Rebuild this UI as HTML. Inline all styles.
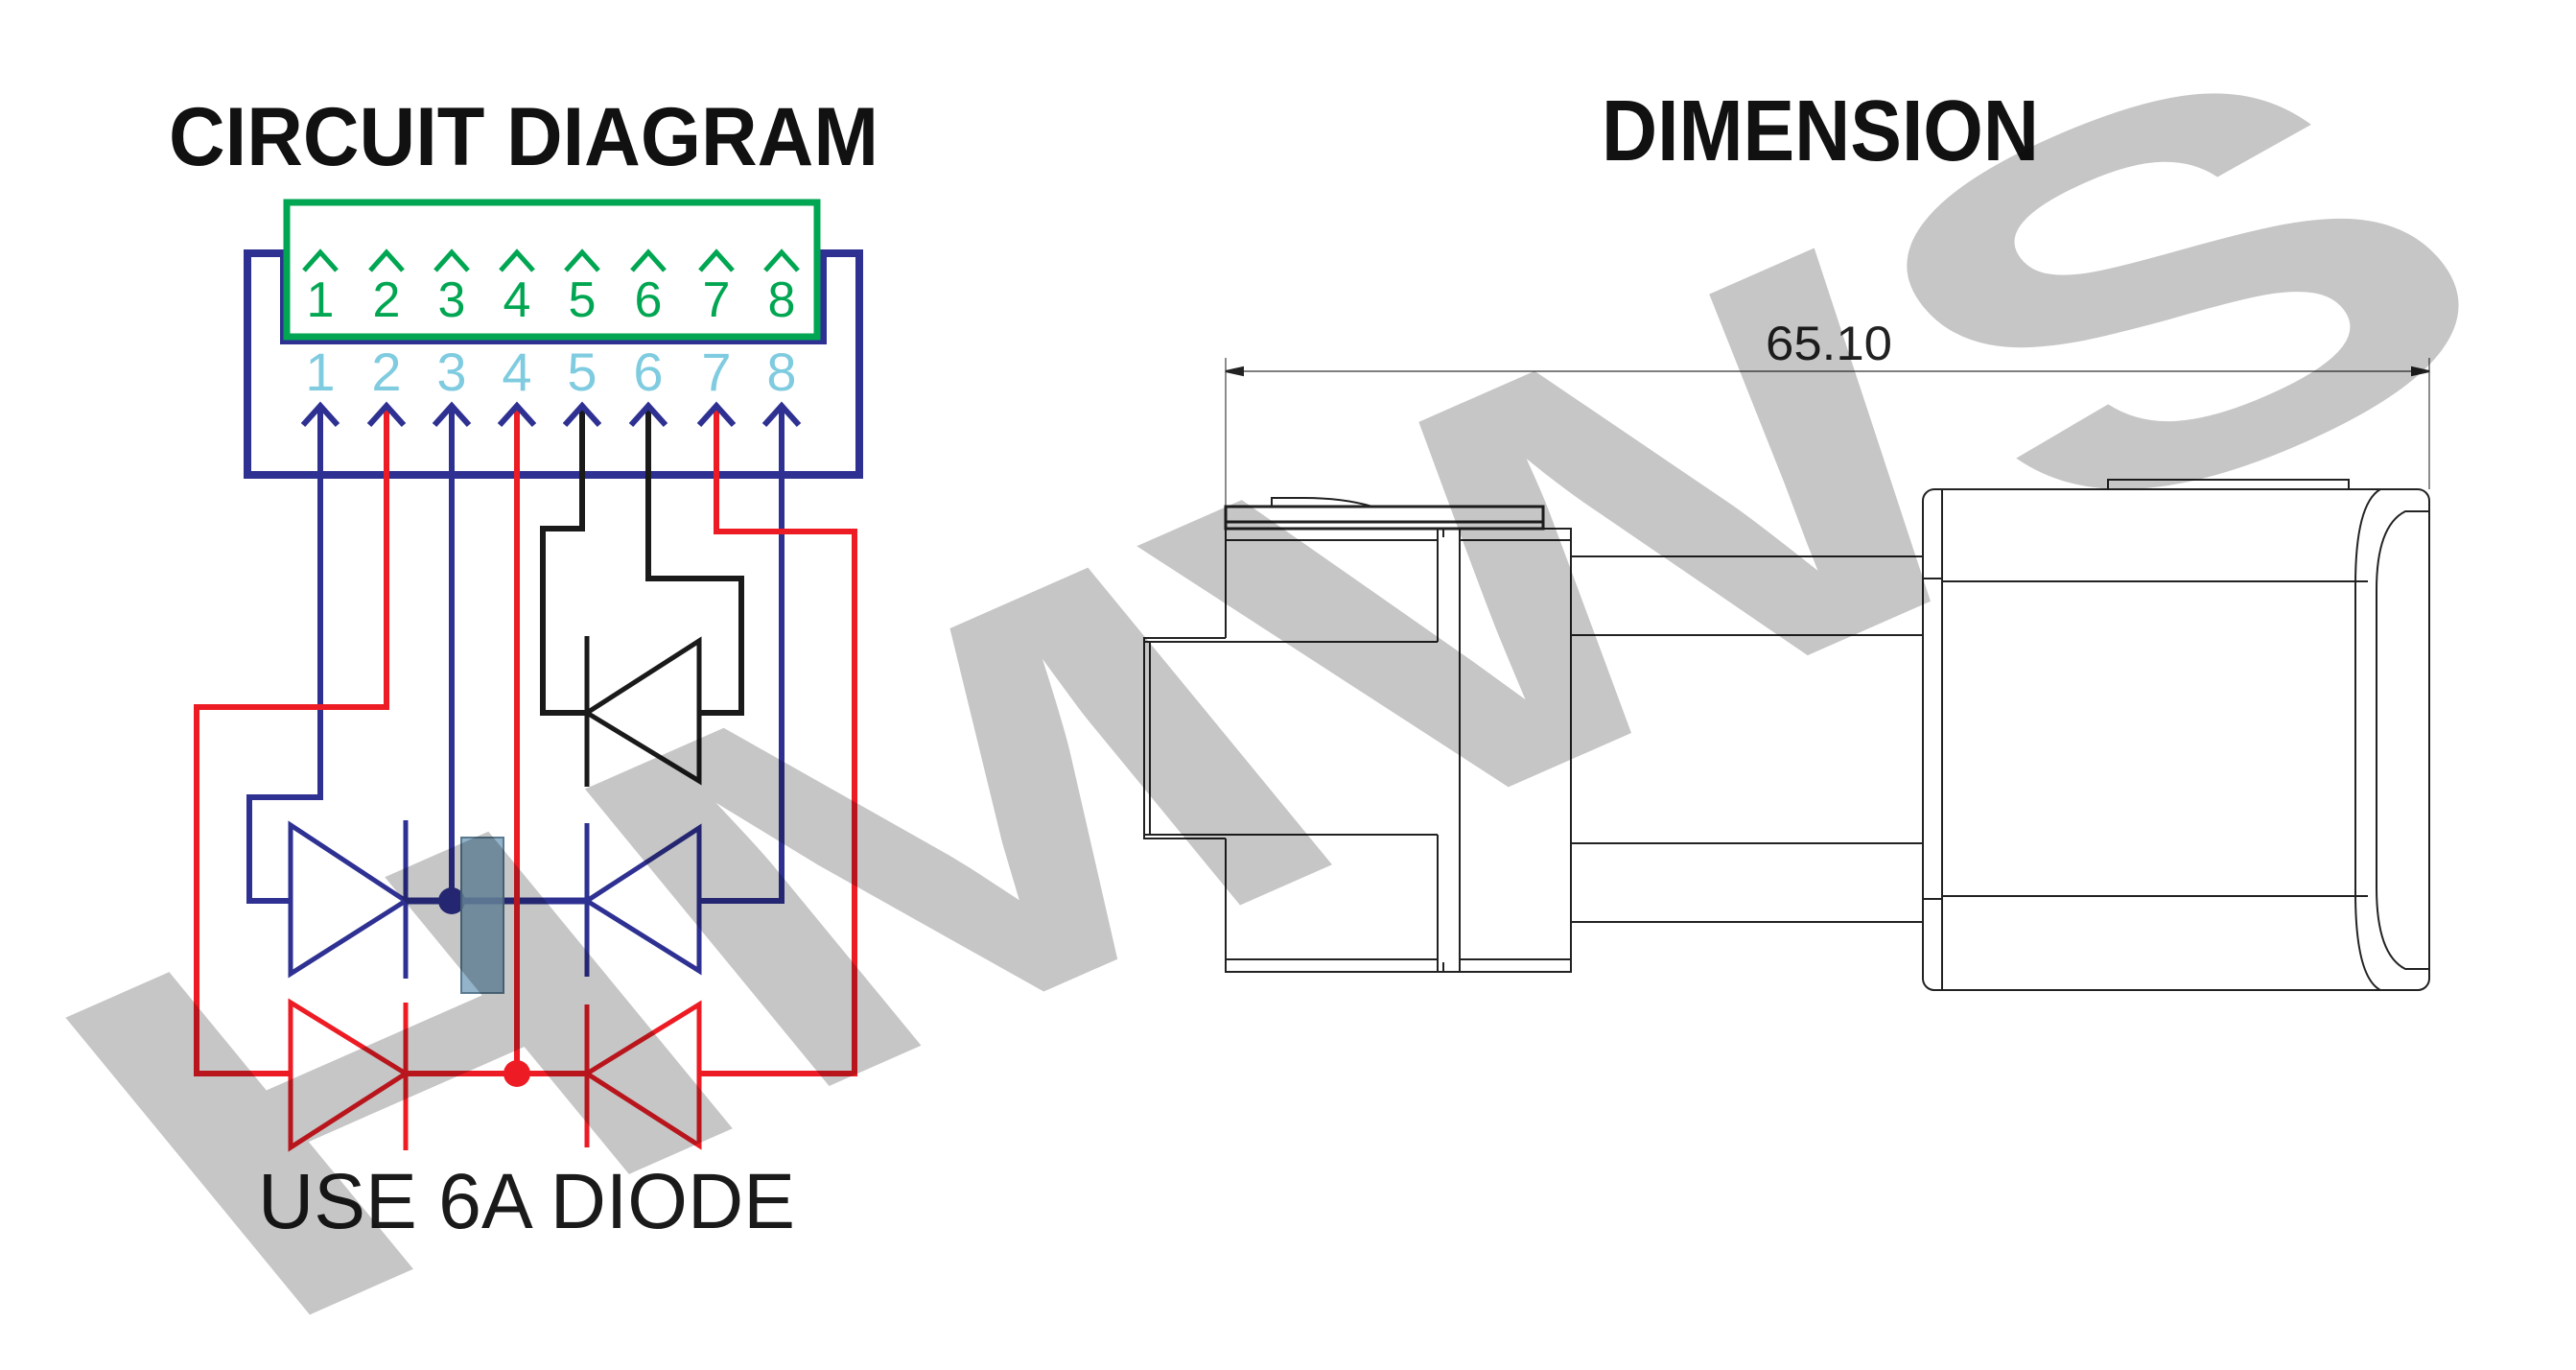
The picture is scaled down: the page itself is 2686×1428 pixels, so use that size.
<!DOCTYPE html>
<html><head><meta charset="utf-8"><style>
html,body{margin:0;padding:0;background:#fff;overflow:hidden;width:2686px;height:1428px;}
svg{display:block;}
</style></head><body>
<svg width="2686" height="1428" viewBox="0 0 2686 1428" xmlns="http://www.w3.org/2000/svg">
<rect width="2686" height="1428" fill="#fff"/>
<text x="176" y="172" font-family="Liberation Sans, sans-serif" font-weight="bold" font-size="86" textLength="740" lengthAdjust="spacingAndGlyphs" fill="#111">CIRCUIT DIAGRAM</text>
<text x="1670" y="167" font-family="Liberation Sans, sans-serif" font-weight="bold" font-size="90" textLength="456" lengthAdjust="spacingAndGlyphs" fill="#111">DIMENSION</text>

<path d="M296,355 L296,264 L258,264 L258,495 L896,495 L896,264 L858,264 L858,355 Z" fill="none" stroke="#2e3192" stroke-width="8" stroke-linejoin="miter"/>
<rect x="299" y="211" width="553" height="140" fill="#fff" stroke="#00a651" stroke-width="7"/>

<g fill="none" stroke="#00a651" stroke-width="5">
<path d="M317,282 L334,263 L351,282 M386,282 L403,263 L420,282 M454,282 L471,263 L488,282 M522,282 L539,263 L556,282 M590,282 L607,263 L624,282 M659,282 L676,263 L693,282 M730,282 L747,263 L764,282 M798,282 L815,263 L832,282"/>
</g>
<g font-family="Liberation Sans, sans-serif" font-size="52" fill="#00a651" text-anchor="middle">
<text x="334" y="330">1</text><text x="403" y="330">2</text><text x="471" y="330">3</text><text x="539" y="330">4</text><text x="607" y="330">5</text><text x="676" y="330">6</text><text x="747" y="330">7</text><text x="815" y="330">8</text>
</g>
<g font-family="Liberation Sans, sans-serif" font-size="56" fill="#7fcbe0" text-anchor="middle">
<text x="334" y="407">1</text><text x="403" y="407">2</text><text x="471" y="407">3</text><text x="539" y="407">4</text><text x="607" y="407">5</text><text x="676" y="407">6</text><text x="747" y="407">7</text><text x="815" y="407">8</text>
</g>

<g fill="none" stroke-width="6" stroke-linejoin="miter">
<path d="M334,424 L334,831 L260,831 L260,939 L303,939" stroke="#2e3192"/>
<path d="M471,424 L471,939" stroke="#2e3192"/>
<path d="M815,424 L815,939 L729,939" stroke="#2e3192"/>
<path d="M423,939 L612,939" stroke="#2e3192" stroke-width="7"/>
<path d="M403,424 L403,737 L205,737 L205,1119 L303,1119" stroke="#ed1c24"/>
<path d="M539,424 L539,1119" stroke="#ed1c24"/>
<path d="M423,1119 L612,1119" stroke="#ed1c24"/>
<path d="M747,424 L747,554 L891,554 L891,1119 L729,1119" stroke="#ed1c24"/>
<path d="M607,424 L607,551 L566,551 L566,743 L612,743" stroke="#1a1a1a"/>
<path d="M676,424 L676,603 L773,603 L773,743 L729,743" stroke="#1a1a1a"/>
</g>
<g fill="none" stroke="#2e3192" stroke-width="6">
<path d="M316,443 L334,423 L352,443 M385,443 L403,423 L421,443 M453,443 L471,423 L489,443 M521,443 L539,423 L557,443 M589,443 L607,423 L625,443 M658,443 L676,423 L694,443 M729,443 L747,423 L765,443 M797,443 L815,423 L833,443"/>
</g>

<g fill="none" stroke-width="5">
<path d="M303,860 L303,1015 L423,939 Z" stroke="#2e3192"/>
<path d="M423,855 L423,1020" stroke="#2e3192"/>
<path d="M729,863 L729,1012 L612,939 Z" stroke="#2e3192"/>
<path d="M612,858 L612,1018" stroke="#2e3192"/>
<path d="M303,1045 L303,1196 L423,1119 Z" stroke="#ed1c24"/>
<path d="M423,1045 L423,1199" stroke="#ed1c24"/>
<path d="M729,1047 L729,1194 L612,1119 Z" stroke="#ed1c24"/>
<path d="M612,1047 L612,1196" stroke="#ed1c24"/>
<path d="M729,668 L729,814 L612,743 Z" stroke="#1a1a1a"/>
<path d="M612,663 L612,820" stroke="#1a1a1a"/>
</g>
<circle cx="471" cy="939" r="14" fill="#2e3192"/>
<circle cx="539" cy="1119" r="14" fill="#ed1c24"/>
<rect x="481" y="873" width="44" height="162" fill="#7fa6c0" fill-opacity="0.85" stroke="#5a7a90" stroke-width="2"/>

<text x="269" y="1280" font-family="Liberation Sans, sans-serif" font-size="82" textLength="560" lengthAdjust="spacingAndGlyphs" fill="#1a1a1a">USE 6A DIODE</text>

<g fill="none" stroke="#222" stroke-width="2">
<path d="M1278,373 L1278,528 M2533,373 L2533,510" stroke="#666" stroke-width="1.5"/>
<path d="M1278,387 L2533,387" stroke="#555" stroke-width="1.5"/>
<path d="M1278,387 L1296,383 L1296,391 Z M2533,387 L2515,383 L2515,391 Z" fill="#222"/>
<rect x="1278" y="528" width="331" height="23" stroke-width="3"/>
<path d="M1278,544 L1609,544" stroke-width="3"/>
<path d="M1326,528 L1326,519 L1360,519 Q1400,519 1431,528"/>
<path d="M1278,551 L1278,665 M1278,874 L1278,1013 L1638,1013 L1638,551 L1278,551"/>
<path d="M1278,563 L1499,563 M1522,563 L1638,563 M1278,1000 L1499,1000 M1522,1000 L1638,1000"/>
<path d="M1499,551 L1499,669 M1499,870 L1499,1013 M1522,551 L1522,1013 M1505,551 L1505,560 M1505,1003 L1505,1013"/>
<path d="M1278,665 L1193,665 L1193,874 L1278,874"/>
<path d="M1193,669 L1499,669 M1193,870 L1499,870 M1199,669 L1199,870"/>
<path d="M1638,580 L2005,580 M1638,662 L2005,662 M1638,879 L2005,879 M1638,961 L2005,961"/>
<rect x="2005" y="510" width="528" height="522" rx="12"/>
<path d="M2025,510 L2025,1032"/>
<path d="M2025,606 L2469,606 M2025,934 L2469,934 M2005,603 L2025,603 M2005,937 L2025,937"/>
<path d="M2198,510 L2198,500 L2449,500 L2449,510"/>
<path d="M2482,510 Q2456,525 2456,610 L2456,930 Q2456,1018 2482,1032"/>
<path d="M2533,533 L2508,533 Q2478,548 2478,615 L2478,925 Q2478,995 2508,1010 L2533,1010"/>
</g>
<text x="1841" y="375" font-family="Liberation Sans, sans-serif" font-size="50" textLength="132" lengthAdjust="spacingAndGlyphs" fill="#222">65.10</text>

<g style="mix-blend-mode:multiply">
<text transform="matrix(7.5,-3.3,3.7,4.5,1460,870)" x="0" y="0" text-anchor="middle" font-family="Liberation Sans, sans-serif" font-weight="bold" font-size="100" fill="#c6c6c6">HMWS</text>
</g>
</svg>
</body></html>
